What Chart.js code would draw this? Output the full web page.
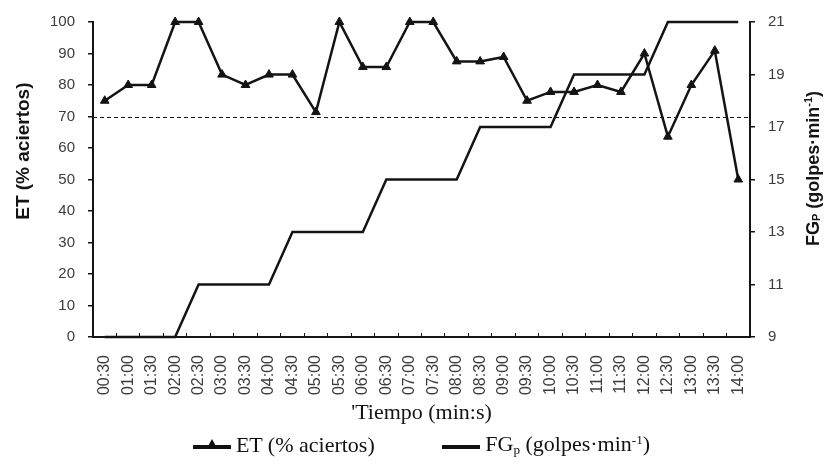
<!DOCTYPE html>
<html lang="es">
<head>
<meta charset="utf-8">
<title>ET y FGp por tiempo</title>
<script src="https://cdn.jsdelivr.net/npm/chart.js@4.4.1/dist/chart.umd.min.js"></script>
<style>
    html, body { margin: 0; padding: 0; background: #ffffff; }
    #wrap { position: relative; width: 824px; height: 466px; }
    #legend {
        position: absolute; left: 93px; width: 657px; top: 432px;
        text-align: center; white-space: nowrap; line-height: 1;
        font-family: "Liberation Serif", "Times New Roman", serif; font-size: 22px; color: #111;
    }
    .item { display: inline-block; vertical-align: middle; }
    .item + .item { margin-left: 62px; }
    .mark { display: inline-block; position: relative; width: 38px; height: 4px; background: #111; vertical-align: middle; margin-right: 5px; }
    .mark.tri::after {
        content: ""; position: absolute; left: 14px; top: -6px;
        border-left: 5px solid transparent; border-right: 5px solid transparent; border-bottom: 9px solid #111;
    }
    #legend sub { font-size: 60%; vertical-align: -0.2em; }
    #legend sup { font-size: 60%; vertical-align: 0.55em; }
</style>
</head>
<body>
<div id="wrap">
    <canvas id="etChart" width="824" height="466"></canvas>
    <div id="legend">
        <span class="item"><span class="mark tri"></span>ET (% aciertos)</span>
        <span class="item"><span class="mark"></span>FG<sub>p</sub> (golpes·min<sup>-1</sup>)</span>
    </div>
</div>
<script>
// ========================================
// ET (% aciertos) y FGp (golpes/min) por tiempo
// ========================================

// Categories (min:s)
const timeLabels = [
    '00:30', '01:00', '01:30', '02:00', '02:30', '03:00', '03:30', '04:00',
    '04:30', '05:00', '05:30', '06:00', '06:30', '07:00', '07:30', '08:00',
    '08:30', '09:00', '09:30', '10:00', '10:30', '11:00', '11:30', '12:00',
    '12:30', '13:00', '13:30', '14:00'
];

// ET - % aciertos (left axis)
const etValues = [
    75, 80, 80, 100, 100, 83.3, 80, 83.3,
    83.3, 71.4, 100, 85.7, 85.7, 100, 100, 87.5,
    87.5, 88.9, 75, 77.8, 77.8, 80, 77.8, 90,
    63.6, 80, 90.9, 50
];

// FGp - golpes por minuto (right axis)
const fgpValues = [
    9, 9, 9, 9, 11, 11, 11, 11,
    13, 13, 13, 13, 15, 15, 15, 15,
    17, 17, 17, 17, 19, 19, 19, 19,
    21, 21, 21, 21
];

// Tick labels
const etTicks = [0, 10, 20, 30, 40, 50, 60, 70, 80, 90, 100];
const fgpTicks = [9, 11, 13, 15, 17, 19, 21];

// Dashed reference line (% aciertos)
const etThreshold = 70;

const INK = '#141414';
const TICK_TEXT = '#3c3c3c';
const SANS = "'Liberation Sans', Arial, sans-serif";
const SERIF = "'Liberation Serif', 'Times New Roman', serif";

/**
 * Dashed horizontal line at the ET threshold
 */
const thresholdLine = {
    id: 'thresholdLine',
    beforeDatasetsDraw(chart) {
        const { ctx, chartArea, scales } = chart;
        const y = Math.round(scales.y.getPixelForValue(etThreshold)) + 0.5;
        ctx.save();
        ctx.strokeStyle = INK;
        ctx.lineWidth = 1;
        ctx.setLineDash([4, 3]);
        ctx.beginPath();
        ctx.moveTo(chartArea.left, y);
        ctx.lineTo(chartArea.right, y);
        ctx.stroke();
        ctx.restore();
    }
};

/**
 * Vertical axis titles (both read bottom to top, right one has sub/superscript)
 */
const axisTitles = {
    id: 'axisTitles',
    afterDraw(chart) {
        const { ctx, chartArea } = chart;
        const h = chartArea.bottom - chartArea.top;

        const drawParts = (cx, cy, parts, size) => {
            ctx.save();
            ctx.translate(cx, cy);
            ctx.rotate(-Math.PI / 2);
            ctx.fillStyle = INK;
            ctx.textBaseline = 'middle';
            ctx.textAlign = 'left';
            let total = 0;
            parts.forEach(p => {
                ctx.font = `bold ${Math.round(size * p.scale)}px ${SANS}`;
                p.w = ctx.measureText(p.text).width;
                total += p.w;
            });
            let x = -total / 2;
            parts.forEach(p => {
                ctx.font = `bold ${Math.round(size * p.scale)}px ${SANS}`;
                ctx.fillText(p.text, x, p.dy * size);
                x += p.w;
            });
            ctx.restore();
        };

        drawParts(24, chartArea.top + h * 0.41, [
            { text: 'ET (% aciertos)', scale: 1, dy: 0 }
        ], 19);

        drawParts(814, chartArea.top + h * 0.465, [
            { text: 'FG', scale: 1, dy: 0 },
            { text: 'P', scale: 0.6, dy: 0.18 },
            { text: ' (golpes·min', scale: 1, dy: 0 },
            { text: '-1', scale: 0.6, dy: -0.3 },
            { text: ')', scale: 1, dy: 0 }
        ], 18);
    }
};

function setTicks(values) {
    return scale => { scale.ticks = values.map(v => ({ value: v })); };
}

const ctx = document.getElementById('etChart');

new Chart(ctx, {
    type: 'line',
    data: {
        labels: timeLabels,
        datasets: [
            {
                label: 'ET (% aciertos)',
                data: etValues,
                yAxisID: 'y',
                clip: false,
                borderColor: INK,
                borderWidth: 2.5,
                pointStyle: 'triangle',
                pointRadius: 5,
                pointBackgroundColor: INK,
                pointBorderColor: INK,
                pointBorderWidth: 1,
                tension: 0,
                fill: false
            },
            {
                label: 'FGp (golpes·min-1)',
                data: fgpValues,
                yAxisID: 'y1',
                clip: false,
                borderColor: INK,
                borderWidth: 2.5,
                pointRadius: 0,
                tension: 0,
                fill: false
            }
        ]
    },
    options: {
        responsive: false,
        animation: false,
        layout: { padding: { top: 15, bottom: 40, left: 0, right: 0 } },
        plugins: {
            legend: { display: false },
            tooltip: { enabled: false }
        },
        scales: {
            x: {
                type: 'category',
                offset: true,
                grid: { drawOnChartArea: false, offset: true, tickLength: -4, color: INK, lineWidth: 1 },
                border: { color: INK, width: 2 },
                ticks: {
                    autoSkip: false, minRotation: 90, maxRotation: 90, padding: 22,
                    color: TICK_TEXT, font: { family: SANS, size: 16 }
                },
                title: {
                    display: true, text: '\'Tiempo (min:s)', color: INK,
                    font: { family: SERIF, size: 22 },
                    padding: { top: 0, bottom: 0 }
                },
                afterFit(scale) { scale.height = 89; }
            },
            y: {
                position: 'left',
                min: 0, max: 100,
                afterBuildTicks: setTicks(etTicks),
                grid: { drawOnChartArea: false, tickLength: 5, color: INK, lineWidth: 1.5 },
                border: { color: INK, width: 2 },
                ticks: { padding: 13, color: TICK_TEXT, font: { family: SANS, size: 15 } },
                afterFit(scale) { scale.width = 93; }
            },
            y1: {
                position: 'right',
                min: 9, max: 21,
                afterBuildTicks: setTicks(fgpTicks),
                grid: { drawOnChartArea: false, tickLength: 5, color: INK, lineWidth: 1.5 },
                border: { color: INK, width: 2 },
                ticks: { padding: 13, color: TICK_TEXT, font: { family: SANS, size: 15 } },
                afterFit(scale) { scale.width = 74; }
            }
        }
    },
    plugins: [thresholdLine, axisTitles]
});
</script>
</body>
</html>
